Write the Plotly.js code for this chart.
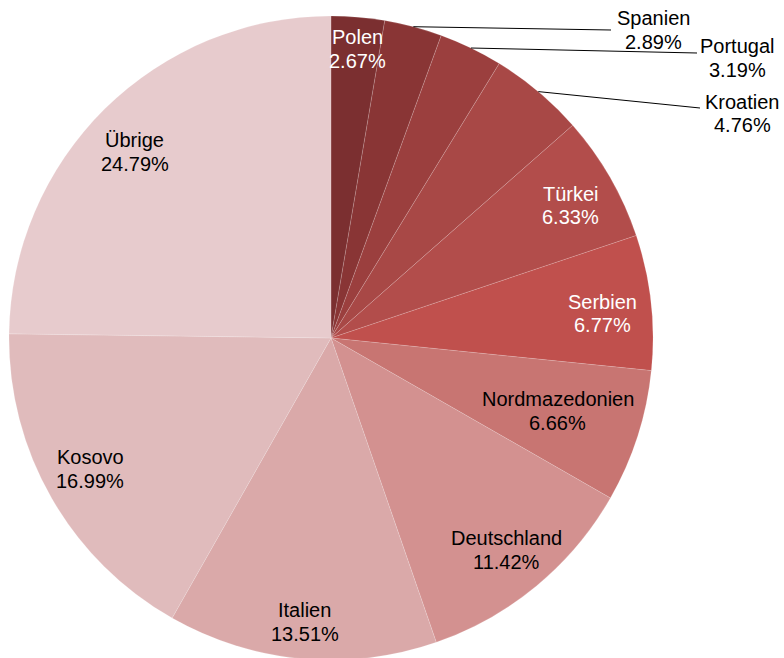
<!DOCTYPE html>
<html>
<head>
<meta charset="utf-8">
<script src="https://cdn.plot.ly/plotly-3.0.1.min.js"></script>
<style>
html,body{margin:0;padding:0;overflow:hidden;background:#fff;}
#chart{width:784px;height:662px;}
</style>
</head>
<body>
<div id="chart"></div>
<script>
// ---- data ----
const countries = ["Polen","Spanien","Portugal","Kroatien","Türkei","Serbien","Nordmazedonien","Deutschland","Italien","Kosovo","Übrige"];
const shares = [2.67, 2.89, 3.19, 4.76, 6.33, 6.77, 6.66, 11.42, 13.51, 16.99, 24.79];

// ---- styles ----
const sliceColors = ["#7B2F30","#893535","#9B3F3E","#A84846","#B24D4B","#C0504D","#C87572","#D39190","#DAA9A9","#E0BBBC","#E7CBCD"];
const whiteText = {"Polen":1,"Türkei":1,"Serbien":1};
const outsideLabels = {  // label centre and leader end, in pixels
  "Spanien":  {cx:653, cy:30,  lx:611, ly:30},
  "Portugal": {cx:737, cy:58,  lx:697, ly:53},
  "Kroatien": {cx:742, cy:113.5, lx:700, ly:108}
};
const radialFrac = {"Polen":0.90, "Italien":0.885, "Nordmazedonien":0.74};
const labelNudge = {"Übrige":[-3,10], "Kosovo":[-2,-6], "Türkei":[1,5], "Serbien":[-2,6], "Polen":[2,0]};
const defaultFrac = 0.855;

const W = 784, H = 662;
const CX = 331, CY = 338, R = 322;
const FONT = "Liberation Sans, Arial, sans-serif";
const FS = 20, HALF = 11.75;

const px = x => x / W;
const py = y => 1 - y / H;

const total = shares.reduce((a,b)=>a+b,0);
const annotations = [];
const shapes = [];
let cum = 0;
shares.forEach((v,i) => {
  const name = countries[i];
  const mid = (cum + v/2) / total * 2 * Math.PI;
  cum += v;
  const pct = v.toFixed(2) + "%";
  let cx, cy;
  const col = whiteText[name] ? "#ffffff" : "#000000";
  if (outsideLabels[name]) {
    const o = outsideLabels[name];
    cx = o.cx; cy = o.cy;
    const ex = CX + R * Math.sin(mid), ey = CY - R * Math.cos(mid);
    shapes.push({type:"line", xref:"paper", yref:"paper",
      x0:px(ex), y0:py(ey), x1:px(o.lx), y1:py(o.ly),
      line:{color:"#000000", width:1}});
  } else {
    const d = R * (radialFrac[name] || defaultFrac);
    const n = labelNudge[name] || [0,0];
    cx = CX + d * Math.sin(mid) + n[0];
    cy = CY - d * Math.cos(mid) + n[1];
  }
  [[name, -HALF],[pct, HALF]].forEach(([t, dy]) => {
    annotations.push({text:t, xref:"paper", yref:"paper", x:px(cx), y:py(cy + dy),
      xanchor:"center", yanchor:"middle", showarrow:false,
      font:{family:FONT, size:FS, color:col}});
  });
});

const trace = {
  type:"pie",
  labels: countries,
  values: shares,
  sort:false,
  direction:"clockwise",
  rotation:0,
  textinfo:"none",
  hoverinfo:"none",
  marker:{colors:sliceColors, line:{color:"rgba(255,255,255,0.25)", width:0.6}},
  domain:{x:[(CX-R)/W, (CX+R)/W], y:[1-(CY+R)/H, 1-(CY-R)/H]}
};

const layout = {
  width:W, height:H,
  margin:{l:0,r:0,t:0,b:0,pad:0},
  showlegend:false,
  paper_bgcolor:"#ffffff",
  plot_bgcolor:"#ffffff",
  annotations: annotations,
  shapes: shapes
};

Plotly.newPlot("chart", [trace], layout, {displayModeBar:false, staticPlot:true});
</script>
</body>
</html>
